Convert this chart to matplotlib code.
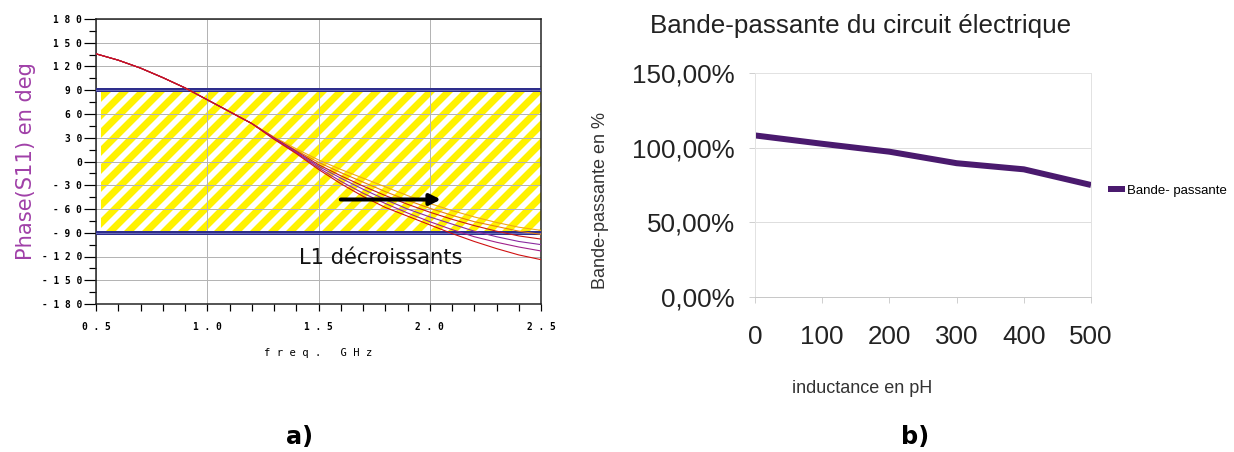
import matplotlib
matplotlib.use('Agg')
import matplotlib.pyplot as plt
from matplotlib.ticker import MultipleLocator

# ── Données ───────────────────────────────────
# a) phase de S11 en fonction de la fréquence (une courbe par valeur de L1)
freq = [0.5, 0.6, 0.7, 0.8, 0.9, 1.0, 1.1, 1.2, 1.3, 1.4, 1.5,
        1.6, 1.7, 1.8, 1.9, 2.0, 2.1, 2.2, 2.3, 2.4, 2.5]
phase_a = [136, 128, 118, 106, 93, 78, 63, 48, 31, 16, 2,
           -10, -21, -32, -43, -53, -62, -70, -77, -83, -87]
phase_b = [136, 128, 118, 106, 93, 78, 63, 48, 30, 14, -1,
           -14, -26, -38, -49, -59, -68, -76, -82, -88, -92]
phase_c = [136, 128, 118, 106, 93, 78, 63, 48, 30, 13, -4,
           -18, -31, -43, -54, -64, -73, -81, -88, -94, -98]
phase_d = [136, 128, 118, 106, 93, 78, 63, 48, 29, 12, -6,
           -21, -35, -48, -60, -70, -79, -88, -95, -101, -105]
phase_e = [136, 128, 118, 106, 93, 78, 63, 48, 29, 11, -8,
           -25, -40, -53, -65, -76, -86, -95, -102, -108, -113]
phase_f = [136, 128, 118, 106, 93, 78, 63, 48, 28, 10, -10,
           -28, -44, -58, -69, -80, -91, -101, -110, -118, -124]
phase_curves = [phase_a, phase_b, phase_c, phase_d, phase_e, phase_f]
curve_colors = ['#f0a818', '#e88010', '#c81818', '#8a2aa0', '#a0208a', '#d01010']

phase_ticks = [180, 150, 120, 90, 60, 30, 0, -30, -60, -90, -120, -150, -180]
freq_ticks = [0.5, 1.0, 1.5, 2.0, 2.5]

# b) bande-passante en fonction de l'inductance
inductance = [0, 100, 200, 300, 400, 500]
bande = [108.2, 102.6, 97.3, 89.6, 85.5, 75.0]
bande_ticks = [0, 50, 100, 150]

# ── Figure ────────────────────────────────────
# dpi 54 pour obtenir des rayures de ~18 px ; S convertit px -> pt
DPI = 54
S = 72 / DPI
plt.rcParams['hatch.linewidth'] = 7 * S
fig = plt.figure(figsize=(1234 / DPI, 452 / DPI), dpi=DPI)

# ── a) Phase(S11) ─────────────────────────────
ax1 = fig.add_axes([96 / 1234, 1 - 304 / 452, 445 / 1234, 285 / 452])
ax1.axhspan(-88, 88, xmin=0.012, facecolor='white', edgecolor='#fff200',
            hatch='/', linewidth=0, zorder=1)
for v in (90, -90):
    ax1.axhline(v, color='#2e2e8c', lw=4 * S, zorder=3)
    ax1.axhline(v, color='#6a6ab8', lw=1 * S, zorder=3)
for vals, c in zip(phase_curves, curve_colors):
    ax1.plot(freq, vals, color=c, lw=1.1 * S, zorder=4)

ax1.set_xlim(0.5, 2.5)
ax1.set_ylim(-180, 180)
ax1.set_yticks(phase_ticks)
ax1.set_yticklabels([' '.join(str(v)) for v in phase_ticks],
                    family='DejaVu Sans Mono', fontsize=9.5 * S, fontweight='bold')
ax1.set_xticks(freq_ticks)
ax1.set_xticklabels([' '.join(f'{v:.1f}') for v in freq_ticks],
                    family='DejaVu Sans Mono', fontsize=9.5 * S, fontweight='bold')
ax1.xaxis.set_minor_locator(MultipleLocator(0.1))
ax1.yaxis.set_minor_locator(MultipleLocator(15))
ax1.tick_params(axis='y', which='major', direction='out', length=12 * S,
                width=1.2 * S, pad=2 * S)
ax1.tick_params(axis='y', which='minor', direction='out', length=7 * S, width=1.2 * S)
ax1.tick_params(axis='x', which='both', direction='out', length=7 * S,
                width=1.2 * S, pad=11 * S)
ax1.grid(True, which='major', color='#b4b4b4', lw=1 * S, zorder=2)
for s in ax1.spines.values():
    s.set_color('#202020')
    s.set_linewidth(1.5 * S)
ax1.set_xlabel('f r e q .   G H z', family='DejaVu Sans Mono', fontsize=10.5 * S,
               labelpad=16 * S)
ax1.set_ylabel('Phase(S11) en deg', color='#a040a8', fontsize=21 * S, labelpad=6 * S)

ax1.annotate('', xy=(2.05, -48), xytext=(1.6, -48),
             arrowprops=dict(arrowstyle='-|>,head_length=0.9,head_width=0.45',
                             mutation_scale=10 * S, color='black', lw=4 * S,
                             shrinkA=0, shrinkB=0), zorder=5)
ax1.text(1.78, -122, 'L1 décroissants', fontsize=21 * S, ha='center', va='center',
         color='#111111', zorder=5)

# ── b) Bande-passante ─────────────────────────
ax2 = fig.add_axes([755 / 1234, 1 - 297 / 452, 336 / 1234, 224 / 452])
ax2.plot(inductance, bande, color='#4a1a6e', lw=6 * S, solid_capstyle='butt',
         label='Bande- passante')
ax2.set_xlim(0, 500)
ax2.set_ylim(0, 150)
ax2.set_xticks(inductance)
ax2.set_yticks(bande_ticks)
ax2.set_yticklabels([f'{v:.2f}'.replace('.', ',') + '%' for v in bande_ticks])
ax2.tick_params(axis='both', colors='#d0d0d0', labelcolor='#222222',
                labelsize=26 * S, length=6 * S, width=1 * S)
ax2.tick_params(axis='x', pad=22 * S)
ax2.tick_params(axis='y', pad=14 * S)
for lbl in ax2.get_xticklabels() + ax2.get_yticklabels():
    lbl.set_family('Liberation Sans')
ax2.grid(True, axis='y', color='#dedede', lw=1 * S)
for s in ax2.spines.values():
    s.set_color('#e2e2e2')
    s.set_linewidth(1 * S)
ax2.spines['bottom'].set_color('#c8c8c8')
ax2.set_title('Bande-passante du circuit électrique', family='Liberation Sans',
              fontsize=26 * S, color='#222222', pad=40 * S, x=0.315)
ax2.set_xlabel('inductance en pH', family='Liberation Sans', fontsize=18 * S,
               color='#333333', labelpad=31 * S, x=0.318)
ax2.set_ylabel('Bande-passante en %', family='Liberation Sans', fontsize=18 * S,
               color='#333333', labelpad=23 * S, y=0.43)
ax2.legend(loc='center left', bbox_to_anchor=(1.015, 0.475), frameon=False,
           handlelength=1.3, handletextpad=0.1,
           prop={'family': 'Liberation Sans', 'size': 13.3 * S})

# ── Étiquettes a) et b) ───────────────────────
fig.text(300 / 1234, 1 - 437 / 452, 'a)', fontsize=24 * S, fontweight='bold',
         ha='center', va='center')
fig.text(915 / 1234, 1 - 437 / 452, 'b)', fontsize=24 * S, fontweight='bold',
         ha='center', va='center')

fig.savefig('out.png', dpi=DPI)
